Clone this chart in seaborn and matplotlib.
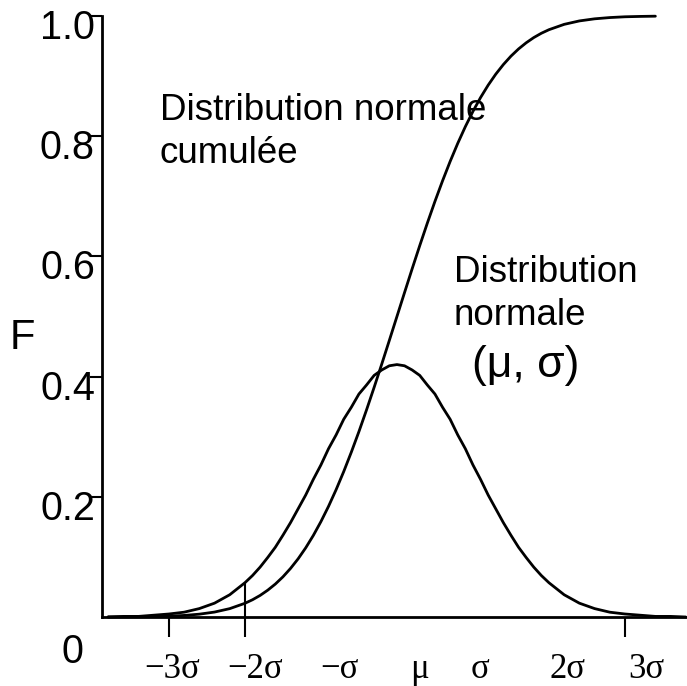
import matplotlib
matplotlib.use("Agg")
import matplotlib.pyplot as plt
import matplotlib.transforms as mtransforms
import seaborn as sns
import pandas as pd

# ---- data (x in units of sigma) ----
x_pdf = [-3.8, -3.6, -3.4, -3.2, -3.0, -2.8, -2.6, -2.4, -2.2, -2.0,
         -1.9, -1.8, -1.7, -1.6, -1.5, -1.4, -1.3, -1.2, -1.1, -1.0,
         -0.9, -0.8, -0.7, -0.6, -0.5, -0.4, -0.3, -0.2, -0.1, 0.0,
         0.1, 0.2, 0.3, 0.4, 0.5, 0.6, 0.7, 0.8, 0.9, 1.0,
         1.1, 1.2, 1.3, 1.4, 1.5, 1.6, 1.7, 1.8, 1.9, 2.0,
         2.2, 2.4, 2.6, 2.8, 3.0, 3.2, 3.4, 3.6, 3.8]
density = [0.000, 0.001, 0.001, 0.003, 0.005, 0.008, 0.014, 0.023, 0.037, 0.057,
           0.069, 0.083, 0.099, 0.116, 0.136, 0.157, 0.180, 0.203, 0.229, 0.253,
           0.280, 0.303, 0.329, 0.349, 0.371, 0.386, 0.402, 0.411, 0.418, 0.420,
           0.418, 0.411, 0.402, 0.386, 0.371, 0.349, 0.329, 0.303, 0.280, 0.253,
           0.229, 0.203, 0.180, 0.157, 0.136, 0.116, 0.099, 0.083, 0.069, 0.057,
           0.037, 0.023, 0.014, 0.008, 0.005, 0.003, 0.001, 0.001, 0.000]

x_cdf = [-3.8, -3.6, -3.4, -3.2, -3.0, -2.8, -2.6, -2.4, -2.2, -2.0,
         -1.9, -1.8, -1.7, -1.6, -1.5, -1.4, -1.3, -1.2, -1.1, -1.0,
         -0.9, -0.8, -0.7, -0.6, -0.5, -0.4, -0.3, -0.2, -0.1, 0.0,
         0.1, 0.2, 0.3, 0.4, 0.5, 0.6, 0.7, 0.8, 0.9, 1.0,
         1.1, 1.2, 1.3, 1.4, 1.5, 1.6, 1.7, 1.8, 1.9, 2.0,
         2.2, 2.4, 2.6, 2.8, 3.0, 3.2, 3.4]
cumulative = [0.0001, 0.0002, 0.0003, 0.0007, 0.0013, 0.0026, 0.0047, 0.0082, 0.0139, 0.0228,
              0.0287, 0.0359, 0.0446, 0.0548, 0.0668, 0.0808, 0.0968, 0.1151, 0.1357, 0.1587,
              0.1841, 0.2119, 0.2420, 0.2743, 0.3085, 0.3446, 0.3821, 0.4207, 0.4602, 0.5000,
              0.5398, 0.5793, 0.6179, 0.6554, 0.6915, 0.7257, 0.7580, 0.7881, 0.8159, 0.8413,
              0.8643, 0.8849, 0.9032, 0.9192, 0.9332, 0.9452, 0.9554, 0.9641, 0.9713, 0.9772,
              0.9861, 0.9918, 0.9953, 0.9974, 0.9987, 0.9993, 0.9997]

y_ticks = [0.2, 0.4, 0.6, 0.8, 1.0]
y_tick_labels = ["0.2", "0.4", "0.6", "0.8", "1.0"]
x_tick_marks = [-3, -2, 3]
x_labels = ["\u22123\u03c3", "\u22122\u03c3", "\u2212\u03c3", "\u03bc", "\u03c3", "2\u03c3", "3\u03c3"]
marker_at = -2.0

# ---- layout constants ----
label_x = [-2.96, -1.87, -0.75, 0.30, 1.09, 2.24, 3.28]

sns.set_style("white")
plt.rcParams["font.family"] = ["Liberation Sans", "DejaVu Sans"]

fig = plt.figure(figsize=(6.87, 6.86), dpi=100)
ax = fig.add_axes([102 / 687, 69 / 686, 585 / 687, 601 / 686])

df_pdf = pd.DataFrame({"x": x_pdf, "F": density})
df_cdf = pd.DataFrame({"x": x_cdf, "F": cumulative})
sns.lineplot(data=df_pdf, x="x", y="F", ax=ax, color="black", linewidth=2,
             estimator=None, clip_on=False)
sns.lineplot(data=df_cdf, x="x", y="F", ax=ax, color="black", linewidth=2,
             estimator=None, clip_on=False)

# marker line at -2 sigma up to the density curve
ax.vlines(marker_at, 0, density[x_pdf.index(marker_at)], color="black", linewidth=1.5)

ax.set_xlim(-3.88, 3.816)
ax.set_ylim(0, 1.0)

for s in ["top", "right"]:
    ax.spines[s].set_visible(False)
for s in ["left", "bottom"]:
    ax.spines[s].set_color("black")
    ax.spines[s].set_linewidth(2)

# y ticks
ax.set_yticks(y_ticks, y_tick_labels)
ax.tick_params(axis="y", left=True, length=8.6, width=1.5, pad=-3.5,
               labelsize=28.5, colors="black", direction="out")

# x ticks: marks only (major), labels on zero-length minor ticks
ax.set_xticks(x_tick_marks, [""] * len(x_tick_marks))
ax.set_xticks(label_x, x_labels, minor=True)
ax.tick_params(axis="x", which="major", bottom=True, length=14.4, width=1.5,
               colors="black", direction="out")
ax.tick_params(axis="x", which="minor", bottom=True, length=0, pad=26,
               labelsize=25, labelcolor="black")
for lab in ax.get_xticklabels(minor=True):
    lab.set_fontfamily(["Liberation Serif", "DejaVu Serif"])

ax.set_xlabel("")
ax.set_ylabel("F", rotation=0, fontsize=30, color="black", ha="center", va="center")
ax.yaxis.set_label_coords(-0.137, 0.464)

offset = mtransforms.ScaledTranslation(0, -0.08, fig.dpi_scale_trans)
for lab in ax.get_yticklabels():
    lab.set_transform(lab.get_transform() + offset)

ax.text(-0.051, -0.058, "0", transform=ax.transAxes, ha="center", va="center",
        fontsize=28.5, color="black")

ax.text(-3.12, 0.872, "Distribution normale\ncumul\u00e9e", ha="left", va="top",
        fontsize=26.5, color="black", linespacing=1.3)
ax.text(0.75, 0.602, "Distribution\nnormale", ha="left", va="top",
        fontsize=26.5, color="black", linespacing=1.3)
ax.text(1.70, 0.419, "(\u03bc, \u03c3)", ha="center", va="center",
        fontsize=32, color="black")

fig.savefig("out.png", dpi=100)
